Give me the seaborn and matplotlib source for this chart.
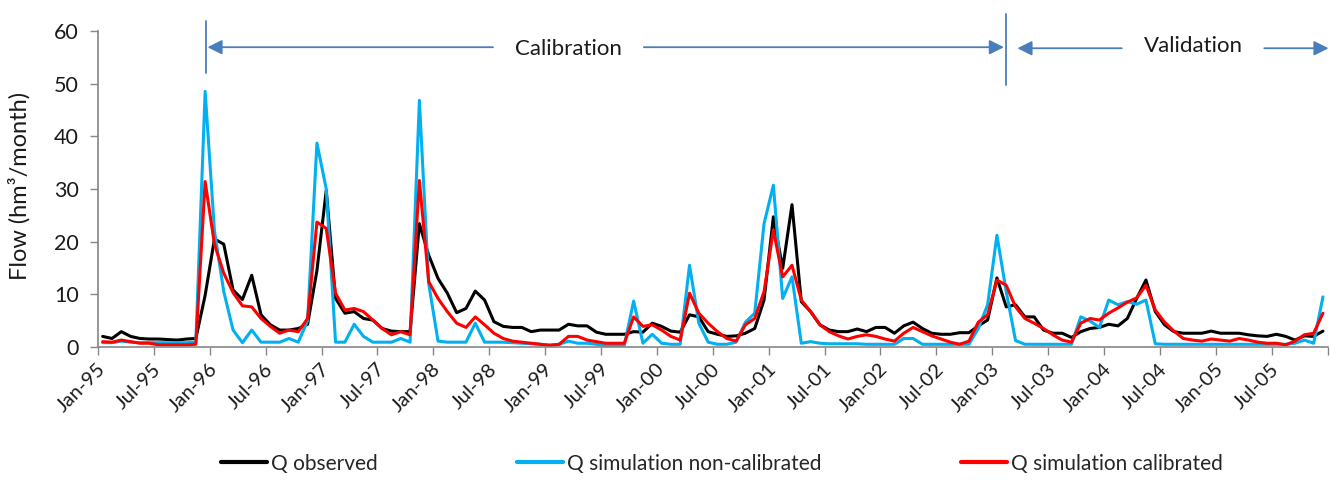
import numpy as np
import pandas as pd
import matplotlib
matplotlib.use("Agg")
import matplotlib.pyplot as plt
from matplotlib.lines import Line2D
import seaborn as sns

# ---------------- data (monthly, Jan-95 .. Dec-05) ----------------
observed = [
    2.0, 1.6, 2.9, 2.0, 1.6, 1.5, 1.5, 1.4, 1.3, 1.5, 1.6, 9.8,
    20.5, 19.5, 10.8, 9.0, 13.6, 6.1, 4.2, 3.2, 3.2, 3.5, 4.3, 14.5,
    29.7, 9.2, 6.4, 6.7, 5.4, 5.1, 3.5, 3.0, 2.9, 2.9, 23.4, 17.4,
    13.0, 10.2, 6.5, 7.3, 10.6, 8.9, 4.8, 3.9, 3.7, 3.7, 2.9, 3.2,
    3.2, 3.2, 4.3, 4.0, 4.0, 2.8, 2.4, 2.4, 2.4, 2.9, 2.8, 4.5,
    3.9, 3.0, 2.8, 6.1, 5.7, 2.9, 2.4, 2.0, 2.1, 2.6, 3.5, 8.9,
    24.7, 14.9, 27.0, 8.6, 6.7, 4.2, 3.2, 2.9, 2.9, 3.4, 2.9, 3.7,
    3.7, 2.6, 4.0, 4.7, 3.5, 2.6, 2.4, 2.4, 2.7, 2.7, 4.0, 5.1,
    13.1, 7.6, 8.0, 5.7, 5.7, 3.2, 2.6, 2.6, 1.8, 2.9, 3.5, 3.7,
    4.3, 4.0, 5.4, 9.2, 12.7, 6.7, 4.2, 2.9, 2.6, 2.6, 2.6, 3.0,
    2.6, 2.6, 2.6, 2.3, 2.1, 2.0, 2.4, 2.0, 1.3, 2.1, 2.0, 3.0,
]
sim_noncal = [
    0.8, 0.8, 1.1, 0.9, 0.8, 0.8, 0.8, 0.8, 0.8, 0.8, 0.9, 48.5,
    22.0, 10.5, 3.2, 0.8, 3.2, 0.9, 0.9, 0.9, 1.6, 0.9, 5.0, 38.7,
    30.0, 0.9, 0.9, 4.3, 2.0, 0.9, 0.9, 0.9, 1.6, 0.9, 46.8, 12.0,
    1.1, 0.9, 0.9, 0.9, 4.5, 0.9, 0.9, 0.9, 0.8, 0.7, 0.6, 0.5,
    0.4, 0.5, 1.1, 0.7, 0.7, 0.5, 0.3, 0.3, 0.3, 8.7, 0.7, 2.4,
    0.7, 0.5, 0.5, 15.5, 4.5, 0.9, 0.5, 0.5, 0.9, 4.7, 6.4, 23.4,
    30.7, 9.2, 13.3, 0.7, 1.0, 0.7, 0.6, 0.6, 0.6, 0.6, 0.5, 0.5,
    0.5, 0.5, 1.6, 1.6, 0.5, 0.5, 0.5, 0.5, 0.5, 0.5, 3.5, 8.0,
    21.2, 10.5, 1.2, 0.5, 0.5, 0.5, 0.5, 0.5, 0.5, 5.7, 4.9, 3.7,
    8.9, 8.0, 8.6, 8.1, 8.9, 0.6, 0.5, 0.5, 0.5, 0.5, 0.5, 0.5,
    0.5, 0.5, 0.5, 0.5, 0.5, 0.5, 0.5, 0.5, 0.7, 1.3, 0.7, 9.5,
]
sim_cal = [
    1.0, 0.9, 1.3, 1.0, 0.7, 0.7, 0.4, 0.4, 0.4, 0.4, 0.5, 31.4,
    19.5, 14.0, 10.3, 7.8, 7.6, 5.4, 3.9, 2.6, 3.2, 2.9, 5.4, 23.7,
    22.5, 10.2, 7.0, 7.3, 6.7, 5.1, 3.5, 2.3, 2.9, 2.3, 31.6, 12.4,
    9.2, 6.7, 4.5, 3.7, 5.7, 4.2, 2.6, 1.6, 1.1, 0.9, 0.7, 0.5,
    0.25, 0.5, 2.0, 2.0, 1.3, 1.0, 0.7, 0.7, 0.7, 5.7, 3.9, 4.2,
    3.2, 2.0, 1.3, 10.2, 6.4, 4.5, 2.9, 1.6, 1.1, 4.2, 5.4, 10.5,
    22.2, 13.3, 15.5, 8.9, 6.7, 4.2, 2.9, 2.1, 1.5, 2.0, 2.3, 2.0,
    1.5, 1.1, 2.6, 3.7, 2.9, 2.1, 1.5, 0.9, 0.5, 1.1, 4.7, 6.1,
    12.7, 11.7, 7.6, 5.4, 4.5, 3.5, 2.3, 1.3, 0.9, 4.5, 5.4, 5.1,
    6.4, 7.4, 8.5, 9.3, 11.7, 7.0, 4.7, 3.0, 1.6, 1.3, 1.1, 1.5,
    1.3, 1.1, 1.6, 1.3, 0.9, 0.7, 0.7, 0.4, 1.1, 2.3, 2.6, 6.4,
]
tick_labels = [
    "Jan-95", "Jul-95", "Jan-96", "Jul-96", "Jan-97", "Jul-97",
    "Jan-98", "Jul-98", "Jan-99", "Jul-99", "Jan-00", "Jul-00",
    "Jan-01", "Jul-01", "Jan-02", "Jul-02", "Jan-03", "Jul-03",
    "Jan-04", "Jul-04", "Jan-05", "Jul-05",
]
series_names = ["Q observed", "Q simulation non-calibrated", "Q simulation calibrated"]
series_colors = ["#000000", "#00b0f0", "#ff0000"]

n = len(observed)
df = pd.DataFrame({
    "month": np.arange(n),
    series_names[0]: observed,
    series_names[1]: sim_noncal,
    series_names[2]: sim_cal,
}).melt(id_vars="month", var_name="series", value_name="flow")

# ---------------- styling ----------------
sns.set_theme(style="white")
plt.rcParams["font.family"] = ["Lato", "DejaVu Sans"]
axis_grey = "#868686"
arrow_blue = "#4a7ebb"

fig = plt.figure(figsize=(13.3, 4.9), dpi=100)
ax = fig.add_axes([0.0737, 0.292, 0.9245, 0.645])

sns.lineplot(data=df, x="month", y="flow", hue="series", hue_order=series_names,
             palette=series_colors, linewidth=2.2, ax=ax, legend=False)

ax.set_xlim(-0.5, n - 0.5)
ax.set_ylim(0, 60)
ax.set_yticks(np.arange(0, 61, 10))
ax.tick_params(axis="y", labelsize=15.5, length=6, width=1, color=axis_grey,
               direction="out", left=True, pad=8, labelcolor="#1a1a1a")
ax.set_xticks(np.arange(0, n, 6))
ax.set_xticklabels(tick_labels, rotation=45, ha="right", va="center",
                   rotation_mode="anchor")
ax.tick_params(axis="x", which="major", length=0, labelsize=14.5, pad=14,
               labelcolor="#1a1a1a")
ax.set_xticks(np.arange(-0.5, n, 6), minor=True)
ax.tick_params(axis="x", which="minor", length=6, width=1, color=axis_grey,
               direction="out", bottom=True)

for s in ["top", "right"]:
    ax.spines[s].set_visible(False)
for s in ["left", "bottom"]:
    ax.spines[s].set_color(axis_grey)
    ax.spines[s].set_linewidth(1.2)

ax.set_xlabel("")
ax.set_ylabel("Flow (hm³/month)", fontsize=17, color="#1a1a1a")
ax.yaxis.set_label_coords(-0.055, 0.51)

# ---------------- calibration / validation annotations ----------------
def arrow(x_from, x_to, y):
    ax.annotate("", xy=(x_to, y), xytext=(x_from, y), xycoords="data",
                arrowprops=dict(arrowstyle="-|>", color=arrow_blue, lw=1.3,
                                mutation_scale=22, shrinkA=0, shrinkB=0),
                annotation_clip=False)

ax.plot([11.1, 11.1], [52.0, 61.9], color=arrow_blue, lw=1.3, clip_on=False)
ax.plot([97.0, 97.0], [49.75, 63.2], color=arrow_blue, lw=1.3, clip_on=False)
arrow(41.9, 11.25, 56.9)
arrow(58.1, 96.75, 56.9)
ax.text(50.0, 56.6, "Calibration", ha="center", va="center", fontsize=16,
        color="#1a1a1a")
arrow(109.4, 98.2, 56.7)
arrow(124.7, 131.6, 56.7)
ax.text(117.1, 57.2, "Validation", ha="center", va="center", fontsize=16,
        color="#1a1a1a")

# ---------------- legend ----------------
handles = [Line2D([], [], color=c, lw=3) for c in series_colors]
fig.legend(handles, series_names, loc="lower center", ncol=3, frameon=False,
           bbox_to_anchor=(0.543, -0.005), fontsize=15, handlelength=2.2,
           handletextpad=0.2, columnspacing=6.7)

fig.savefig("out.png", dpi=100)
